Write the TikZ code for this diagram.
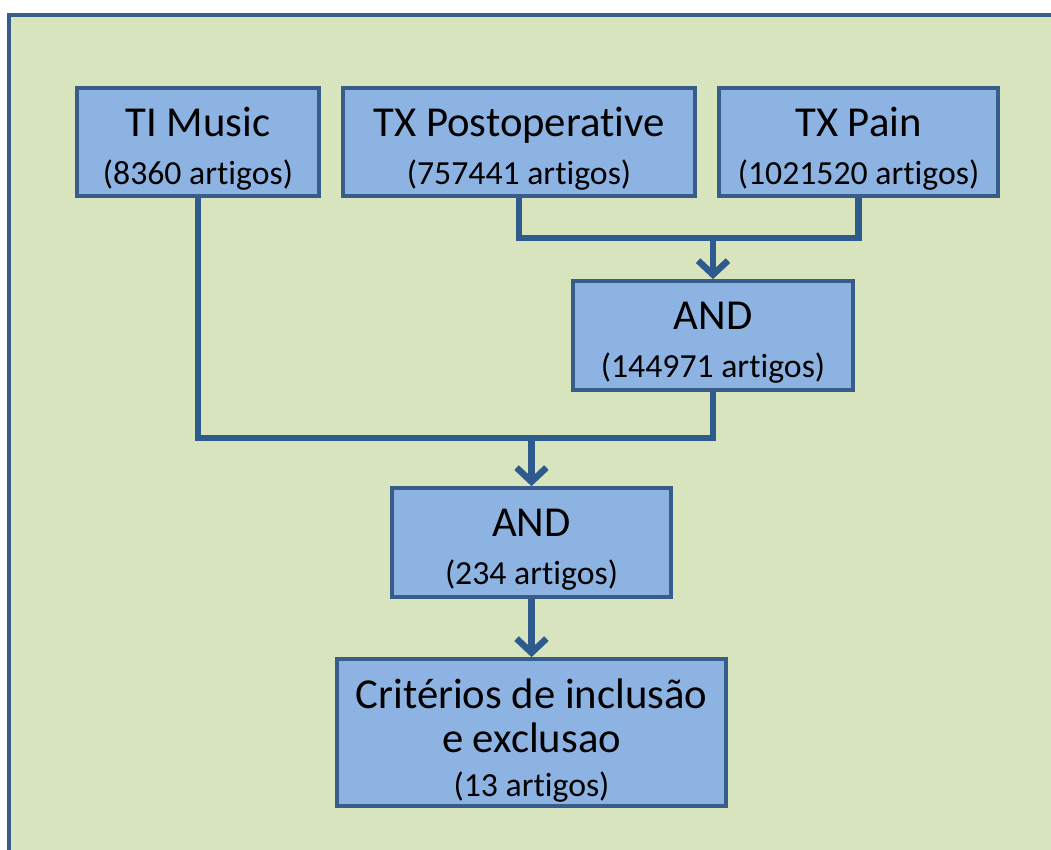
\documentclass[tikz,border=0pt]{standalone}
\usepackage{fontspec}
\setmainfont{Carlito}[Ligatures=NoCommon]
\usepackage{xcolor}
\usetikzlibrary{positioning}
\usetikzlibrary{arrows.meta}
\definecolor{pagegreen}{HTML}{D7E4BD}
\definecolor{boxblue}{HTML}{8DB3E2}
\definecolor{edgeblue}{HTML}{385D8A}
\definecolor{linkblue}{HTML}{2F5A8E}
\newcommand{\bigtxt}{\fontsize{24.3}{28}\selectfont}
\newcommand{\smalltxt}{\fontsize{19.2}{22}\selectfont}
\newcommand{\topgap}[1]{\rule{0pt}{#1}}
\tikzset{searchbox/.style={draw=edgeblue, line width=0.075cm, fill=boxblue, align=center, inner sep=0pt, font=\bigtxt}}
\tikzset{link/.style={linkblue, line width=0.13cm}}
\tikzset{arrow/.style={link, -{Straight Barb[length=8pt, width=17pt]}}}
\begin{document}
\begin{tikzpicture}[x=0.02cm, y=-0.02cm]
\useasboundingbox (0,0) rectangle (1051,849);
\fill [white] (0,0) rectangle (1051,849);
\clip (0,0) rectangle (1051,849);
\draw [edgeblue, line width=0.075cm, fill=pagegreen] (9,15) rectangle (1070,880);
% caixas
\node (music) [searchbox, minimum width=4.84cm, minimum height=2.16cm] at (198,142) {\topgap{24pt}TI Music\\[-0.5pt]{\smalltxt (8360 artigos)}};
\node (postop) [searchbox, minimum width=7.04cm, minimum height=2.16cm] at (519,142) {\topgap{24pt}TX Postoperative\\[-0.5pt]{\smalltxt (757441 artigos)}};
\node (pain) [searchbox, minimum width=5.58cm, minimum height=2.16cm] at (858.5,142) {\topgap{24pt}TX Pain\\[-0.5pt]{\smalltxt (1021520 artigos)}};
\node (and1) [searchbox, minimum width=5.6cm, minimum height=2.18cm] at (713,335.5) {\topgap{24pt}AND\\[-0.5pt]{\smalltxt (144971 artigos)}};
\node (and2) [searchbox, minimum width=5.58cm, minimum height=2.18cm] at (531.5,542.5) {\topgap{24pt}AND\\[-0.5pt]{\smalltxt (234 artigos)}};
\node (crit) [searchbox, minimum width=7.78cm, minimum height=2.94cm] at (531.5,732.5) {\topgap{26pt}Crit\'erios de inclus\~ao\\[-3pt]e exclusao\\[-3pt]{\smalltxt (13 artigos)}};
% juncoes
\coordinate (j1) at (713,238);
\coordinate (j2) at (531.5,438);
\draw [link] (postop.south) |- (j1) -| (pain.south);
\draw [arrow] (j1)--(and1.north);
\draw [link] (music.south) |- (j2) -| (and1.south);
\draw [arrow] (j2)--(and2.north);
\draw [arrow] (and2.south)--(crit.north);
\end{tikzpicture}
\end{document}
